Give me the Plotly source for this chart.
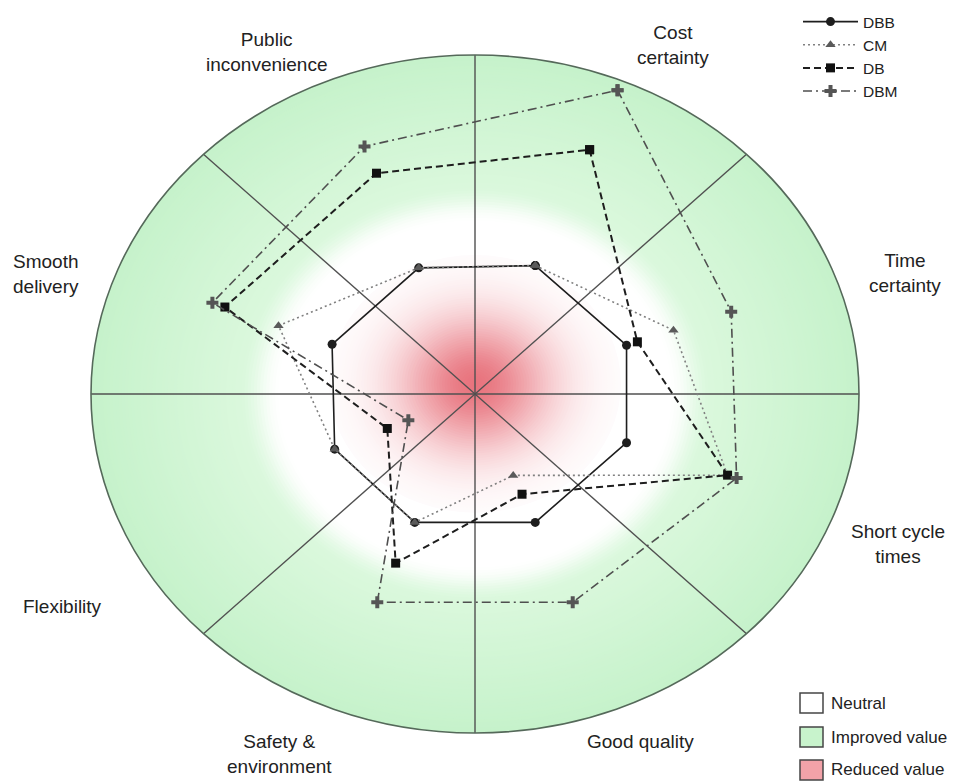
import numpy as np
import plotly.graph_objects as go

# ---- data -----------------------------------------------------------------
categories = ["Cost certainty", "Time certainty", "Short cycle times", "Good quality",
              "Safety & environment", "Flexibility", "Smooth delivery",
              "Public inconvenience"]

# scores relative to the outer ring (1.0 = outer edge)
dbb = [0.41, 0.42, 0.42, 0.41, 0.41, 0.40, 0.40, 0.40]
cm = [0.41, 0.55, 0.70, 0.26, 0.41, 0.40, 0.55, 0.40]
db = [0.78, 0.45, 0.70, 0.32, 0.54, 0.25, 0.70, 0.70]
dbm = [0.97, 0.71, 0.725, 0.665, 0.665, 0.19, 0.735, 0.785]

series_names = ["DBB", "CM", "DB", "DBM"]

# ---- layout constants -----------------------------------------------------
W, H = 962, 781
CX, CY = 475, 394          # centre of the chart in pixels
RX, RY = 384, 339          # outer ellipse radii in pixels
SPOKE_DEG = [67.5, 20, -20, -67.5, -112.5, -156, 158.5, 111.5]  # direction of each category


def px(x):
    return x / W


def py(y):
    return 1 - y / H


def to_xy(values):
    th = np.radians(SPOKE_DEG + SPOKE_DEG[:1])
    r = np.array(list(values) + [values[0]])
    return r * np.cos(th), r * np.sin(th)


def mix(c1, c2, t):
    t = min(max(t, 0.0), 1.0)
    return "rgb(%d,%d,%d)" % tuple(round(a + (b - a) * t) for a, b in zip(c1, c2))


WHITE = (255, 255, 255)
G_IN = (218, 248, 220)
G_OUT = (198, 242, 203)
RED = (232, 116, 126)

shapes = []
# green field fading into a white ring
for r in np.arange(1.0, 0.40, -0.008):
    if r >= 0.62:
        col = mix(G_IN, G_OUT, (r - 0.62) / 0.38)
    elif r >= 0.51:
        t = (r - 0.51) / 0.11
        col = mix(WHITE, G_IN, t * t * (3 - 2 * t))
    else:
        col = "rgb(255,255,255)"
    shapes.append(dict(type="circle", xref="x", yref="y", x0=-r, x1=r, y0=-r, y1=r,
                       fillcolor=col, line=dict(width=0), layer="below"))
# soft red core
for r in np.arange(0.38, 0.0, -0.007):
    a = np.exp(-(r / 0.2) ** 2)
    shapes.append(dict(type="circle", xref="x", yref="y", x0=-r, x1=r,
                       y0=0.03 - r, y1=0.03 + r,
                       fillcolor=mix(WHITE, RED, a), line=dict(width=0), layer="below"))
# spokes
c45 = np.cos(np.pi / 4)
for (x0, y0, x1, y1) in [(-1, 0, 1, 0), (0, -1, 0, 1), (-c45, -c45, c45, c45),
                         (-c45, c45, c45, -c45)]:
    shapes.append(dict(type="line", xref="x", yref="y", x0=x0, y0=y0, x1=x1, y1=y1,
                       line=dict(color="#505050", width=1.4), layer="below"))
# outer ellipse outline
shapes.append(dict(type="circle", xref="x", yref="y", x0=-1, x1=1, y0=-1, y1=1,
                   line=dict(color="#55695a", width=1.6), layer="below"))

# key for the background colours
key = [("Neutral", "#ffffff", 693, 703), ("Improved value", "#c8f3cc", 727, 737),
       ("Reduced value", "#f2a2a8", 760, 769)]
annotations = []
for label, fill, top, ty in key:
    shapes.append(dict(type="rect", xref="paper", yref="paper",
                       x0=px(800), x1=px(823), y0=py(top + 20), y1=py(top),
                       fillcolor=fill, line=dict(color="#454545", width=1.5)))
    annotations.append(dict(xref="paper", yref="paper", x=px(829), y=py(ty), text=label,
                            showarrow=False, xanchor="left", yanchor="middle",
                            font=dict(size=17, color="#222")))

# category labels around the ring
cat_labels = [
    ("Public<br>inconvenience", 266, 52),
    ("Cost<br>certainty", 673, 45),
    ("Time<br>certainty", 905, 273),
    ("Smooth<br>delivery", 46, 274),
    ("Flexibility", 62, 606),
    ("Short cycle<br>times", 898, 544),
    ("Safety &<br>environment", 279, 754),
    ("Good quality", 640, 741),
]
for text, x, y in cat_labels:
    annotations.append(dict(xref="paper", yref="paper", x=px(x), y=py(y), text=text,
                            showarrow=False, xanchor="center", yanchor="middle",
                            align="center", font=dict(size=19, color="#222")))

styles = {
    "DBB": dict(line=dict(color="#1e1e1e", width=1.6, dash="solid"),
                marker=dict(symbol="circle", size=9, color="#1e1e1e")),
    "CM": dict(line=dict(color="#808080", width=1.6, dash="2px,3px"),
               marker=dict(symbol="triangle-up", size=9, color="#5a5a5a")),
    "DB": dict(line=dict(color="#1e1e1e", width=2, dash="7px,4px"),
               marker=dict(symbol="square", size=9, color="#111111")),
    "DBM": dict(line=dict(color="#4f4f4f", width=1.6, dash="9px,4px,2px,4px"),
                marker=dict(symbol="cross", size=10, color="#555555")),
}

fig = go.Figure()
for name, vals in zip(series_names, [dbb, cm, db, dbm]):
    x, y = to_xy(vals)
    fig.add_trace(go.Scatter(x=x, y=y, mode="lines+markers", name=name,
                             text=categories + categories[:1],
                             hovertemplate="%{text}: %{customdata}<extra>" + name + "</extra>",
                             customdata=list(vals) + [vals[0]],
                             **styles[name]))

fig.update_layout(
    width=W, height=H,
    margin=dict(l=0, r=0, t=0, b=0),
    paper_bgcolor="white", plot_bgcolor="white",
    font=dict(family="Liberation Sans, Arial, sans-serif", color="#222"),
    xaxis=dict(range=[-CX / RX, (W - CX) / RX], visible=False, fixedrange=True),
    yaxis=dict(range=[-(H - CY) / RY, CY / RY], visible=False, fixedrange=True),
    shapes=shapes,
    annotations=annotations,
    showlegend=True,
    legend=dict(x=px(798), y=py(5), xanchor="left", yanchor="top",
                bgcolor="rgba(0,0,0,0)", font=dict(size=15.5, color="#222"),
                itemwidth=55, tracegroupgap=0),
)

fig.write_html("out.html")
